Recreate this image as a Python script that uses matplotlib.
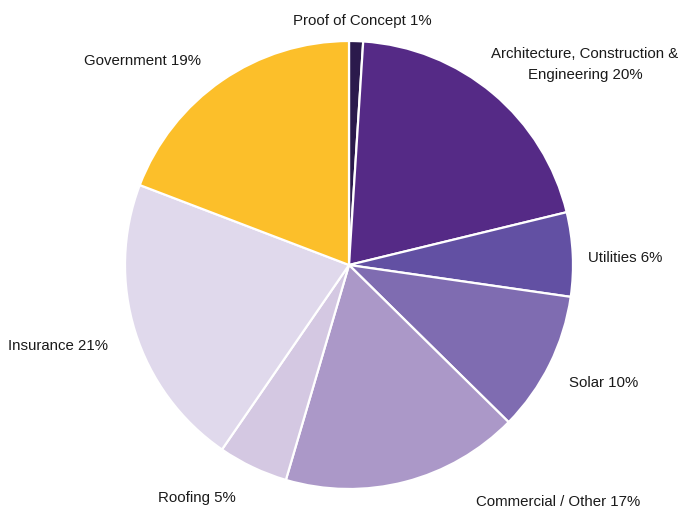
import matplotlib.pyplot as plt
from matplotlib import font_manager

# Sector breakdown, clockwise from 12 o'clock
sectors = ['Proof of Concept', 'Architecture, Construction &\nEngineering', 'Utilities',
           'Solar', 'Commercial / Other', 'Roofing', 'Insurance', 'Government']
shares = [1, 20, 6, 10, 17, 5, 21, 19]
colors = ['#2b1a4c', '#552a86', '#6250a3', '#7f6cb1', '#ab98c8', '#d4c8e2', '#e0d9ec', '#fcbf2a']

# where each label sits (pie radius = 1)
label_pos = [(0.058, 1.090), (1.054, 0.895), (1.232, 0.031), (1.138, -0.527),
             (0.933, -1.058), (-0.679, -1.040), (-1.299, -0.362), (-0.920, 0.911)]

names = {f.name for f in font_manager.fontManager.ttflist}
family = 'Liberation Sans Narrow' if 'Liberation Sans Narrow' in names else 'Liberation Sans'

fig = plt.figure(figsize=(6.99, 5.15), dpi=100)
ax = fig.add_axes([0, 0, 1, 1])
ax.pie(shares, colors=colors, startangle=90, counterclock=False, radius=1,
       wedgeprops={'edgecolor': 'white', 'linewidth': 1.6})

for name, val, (x, y) in zip(sectors, shares, label_pos):
    ax.text(x, y, f'{name} {val}%', ha='center', va='center', fontsize=10.8,
            family=family, color='#1a1a1a', linespacing=1.6)

ax.set_xlim(-349 / 224, 350 / 224)
ax.set_ylim(-250 / 224, 265 / 224)
ax.set_aspect('auto')
ax.axis('off')

fig.savefig('out.png', dpi=100)
